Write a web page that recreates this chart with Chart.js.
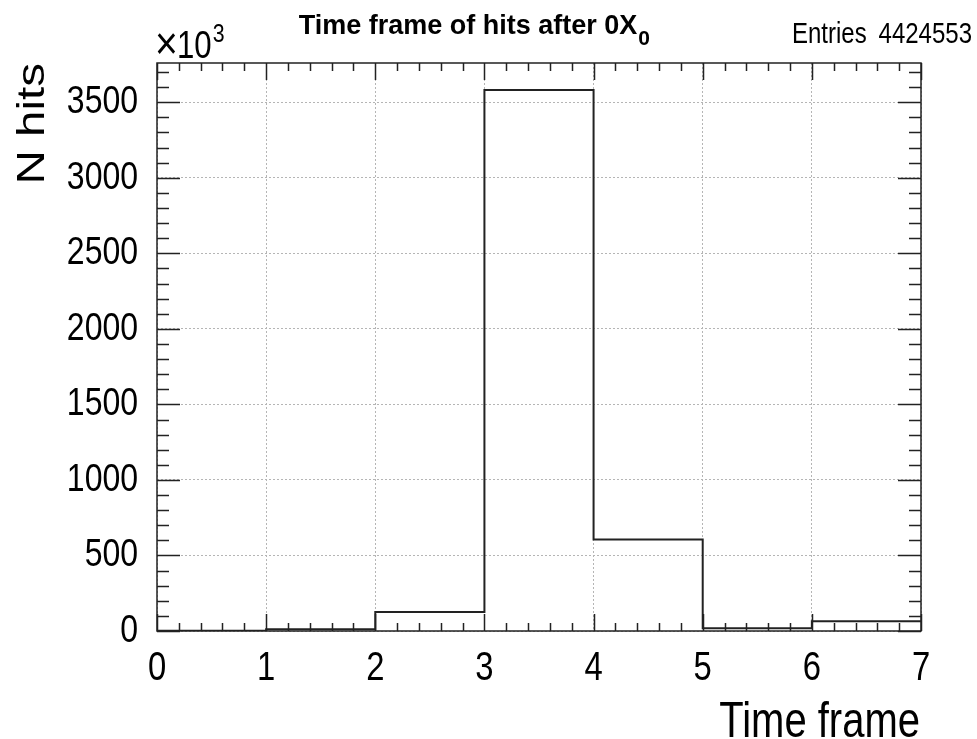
<!DOCTYPE html>
<html>
<head>
<meta charset="utf-8">
<title>Time frame of hits after 0X0</title>
<script src="https://cdn.jsdelivr.net/npm/chart.js@4.4.1/dist/chart.umd.min.js"></script>
<style>
  body { margin: 0; background: #fff; }
  #wrap { width: 977px; height: 739px; }
</style>
</head>
<body>
<div id="wrap"><canvas id="hist" width="977" height="739"></canvas></div>
<script>
// Histogram contents (counts in units of 10^3)
const binEdges = [0, 1, 2, 3, 4, 5, 6, 7];
const binCounts = [1, 11, 126, 3581, 606, 18, 64];
const xTicks = [0, 1, 2, 3, 4, 5, 6, 7];
const yTicks = [0, 500, 1000, 1500, 2000, 2500, 3000, 3500];
const entries = 4424553;
const yMax = 3760;

const SANS = "'Liberation Sans', Arial, sans-serif";

// step points: one per left edge, plus the closing edge
const points = binEdges.map((edge, i) => ({
  x: edge,
  y: binCounts[Math.min(i, binCounts.length - 1)],
}));

// the picture's text is horizontally squeezed, so draw it with a scale
function squeezed(ctx, text, x, y, align, sx) {
  ctx.save();
  ctx.translate(x, y);
  ctx.scale(sx, 1);
  ctx.textAlign = align;
  ctx.fillText(text, 0, 0);
  ctx.restore();
}

// frame, inward ticks and the ROOT-style labels
const rootFrame = {
  id: 'rootFrame',
  afterDatasetsDraw(chart) {
    const { ctx, chartArea: a, scales: { x, y } } = chart;
    ctx.save();
    ctx.strokeStyle = '#222';
    ctx.lineWidth = 1.5;

    ctx.beginPath();
    // y ticks, both sides
    for (let v = 0; v <= yMax; v += 100) {
      const py = Math.round(y.getPixelForValue(v)) + 0.5;
      const len = v % 500 === 0 ? 23 : 12;
      ctx.moveTo(a.left, py);
      ctx.lineTo(a.left + len, py);
      ctx.moveTo(a.right, py);
      ctx.lineTo(a.right - len, py);
    }
    // x ticks, bottom and top
    for (let k = 0; k <= 35; k++) {
      const v = k * 0.2;
      const px = Math.round(x.getPixelForValue(v)) + 0.5;
      const len = k % 5 === 0 ? 17 : 8;
      ctx.moveTo(px, a.bottom);
      ctx.lineTo(px, a.bottom - len);
      ctx.moveTo(px, a.top);
      ctx.lineTo(px, a.top + len);
    }
    ctx.stroke();

    ctx.strokeRect(a.left, a.top, a.right - a.left, a.bottom - a.top);

    ctx.fillStyle = '#000';

    // tick labels
    ctx.font = '39px ' + SANS;
    ctx.textBaseline = 'middle';
    yTicks.forEach((v) => squeezed(ctx, String(v), a.left - 19, y.getPixelForValue(v), 'right', 0.82));
    ctx.font = '40px ' + SANS;
    ctx.textBaseline = 'alphabetic';
    xTicks.forEach((v) => squeezed(ctx, String(v), x.getPixelForValue(v), 680, 'center', 0.82));

    // axis titles
    ctx.font = '50px ' + SANS;
    squeezed(ctx, 'Time frame', a.right - 1, 737, 'right', 0.8);

    ctx.save();
    ctx.translate(44, a.top);
    ctx.rotate(-Math.PI / 2);
    ctx.scale(1.22, 1);
    ctx.font = '39px ' + SANS;
    ctx.textAlign = 'right';
    ctx.fillText('N hits', 0, 0);
    ctx.restore();

    // title
    ctx.textAlign = 'left';
    ctx.font = 'bold 27px ' + SANS;
    const title = 'Time frame of hits after 0X';
    const w = ctx.measureText(title).width;
    const tx = 474 - (w + 12) / 2;
    ctx.fillText(title, tx, 34);
    ctx.font = 'bold 21px ' + SANS;
    ctx.fillText('0', tx + w + 1, 45);

    // stats
    ctx.font = '30px ' + SANS;
    squeezed(ctx, 'Entries', 792, 43, 'left', 0.8);
    squeezed(ctx, String(entries), 972, 43, 'right', 0.8);

    // exponent of y axis
    ctx.font = '46px ' + SANS;
    squeezed(ctx, '\u00d7', a.left - 2, 59, 'left', 0.85);
    ctx.font = '38px ' + SANS;
    squeezed(ctx, '10', a.left + 20, 58, 'left', 0.82);
    const ew = ctx.measureText('10').width * 0.82;
    ctx.font = '26px ' + SANS;
    squeezed(ctx, '3', a.left + 20 + ew + 1, 42, 'left', 0.82);
    ctx.restore();
  },
};

new Chart(document.getElementById('hist'), {
  type: 'line',
  data: {
    datasets: [{
      label: 'Time frame',
      data: points,
      stepped: true,
      borderColor: '#222',
      borderWidth: 2,
      pointRadius: 0,
      fill: false,
    }],
  },
  options: {
    responsive: false,
    animation: false,
    layout: { padding: { top: 63, right: 56, left: 0, bottom: 0 } },
    plugins: {
      legend: { display: false },
      tooltip: { enabled: false },
    },
    scales: {
      x: {
        type: 'linear',
        min: 0,
        max: 7,
        afterBuildTicks: (scale) => { scale.ticks = xTicks.map((v) => ({ value: v })); },
        afterFit: (scale) => { scale.height = 108; },
        grid: { color: '#b5b5b5', lineWidth: 1, drawTicks: false },
        border: { display: false, dash: [2, 2] },
        ticks: { display: false },
      },
      y: {
        type: 'linear',
        min: 0,
        max: yMax,
        afterBuildTicks: (scale) => { scale.ticks = yTicks.map((v) => ({ value: v })); },
        afterFit: (scale) => { scale.width = 157; },
        grid: { color: '#b5b5b5', lineWidth: 1, drawTicks: false },
        border: { display: false, dash: [2, 2] },
        ticks: { display: false },
      },
    },
  },
  plugins: [rootFrame],
});
</script>
</body>
</html>
